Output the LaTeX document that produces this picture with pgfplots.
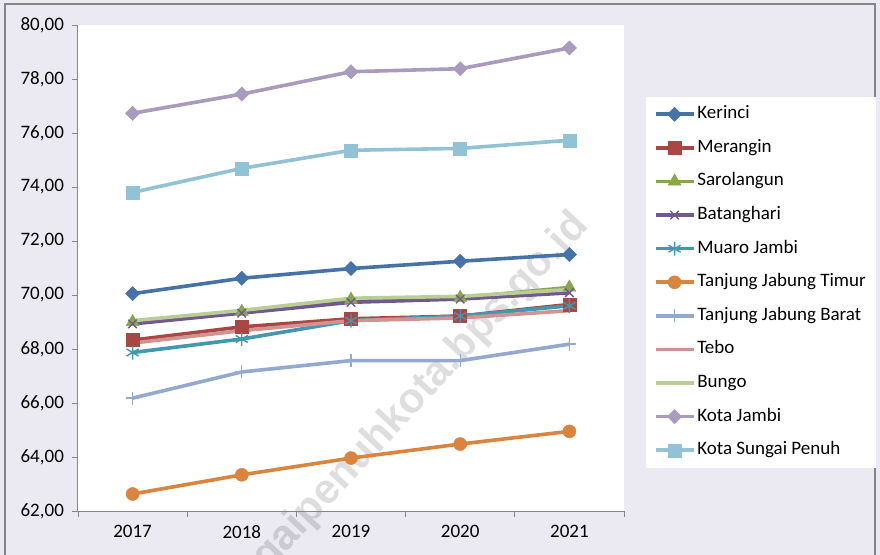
\documentclass[border=0pt]{standalone}
\usepackage{fontspec}
\setmainfont{Carlito}
\newfontfamily\wmfont{Liberation Sans}
\usepackage{pgfplots}
\pgfplotsset{compat=1.18}
\usetikzlibrary{backgrounds,calc}
\definecolor{bgc}{RGB}{235,233,241}
\definecolor{cA}{HTML}{4572A7}
\definecolor{cB}{HTML}{AA4643}
\definecolor{cC}{HTML}{89A54E}
\definecolor{cD}{HTML}{71588F}
\definecolor{cE}{HTML}{4198AF}
\definecolor{cF}{HTML}{DB843D}
\definecolor{cG}{HTML}{93A9CF}
\definecolor{cH}{HTML}{D19392}
\definecolor{cI}{HTML}{B9CD96}
\definecolor{cJ}{HTML}{A99BBD}
\definecolor{cK}{HTML}{91C3D5}
\definecolor{axc}{RGB}{134,134,134}
\newcommand{\fs}{\fontsize{19bp}{23bp}\selectfont}
\begin{document}
\begin{tikzpicture}
\begin{axis}[
  scale only axis, width=546bp, height=486bp,
  xmin=-0.5, xmax=4.5, ymin=62, ymax=80,
  xtick={0,1,2,3,4}, xticklabels={2017,2018,2019,2020,2021},
  minor xtick={-0.5,0.5,1.5,2.5,3.5,4.5},
  major x tick style={draw=none},
  ytick={62,64,...,80},
  tick align=outside,
  major tick length=6bp, minor tick length=6bp,
  tick style={axc, line width=0.8bp},
  axis x line*=bottom, axis y line*=left,
  axis line style={-, axc, line width=1bp},
  /pgf/number format/assume math mode=true,
  y tick label style={/pgf/number format/fixed, /pgf/number format/fixed zerofill, /pgf/number format/precision=2, /pgf/number format/use comma},
  tick label style={font=\fs},
  yticklabel style={xshift=-3bp},
  xticklabel style={yshift=-3bp},
  line width=3.6bp,
  legend style={at={(1.0366,0.856)}, anchor=north west, draw=none, fill=white,
    font=\fs, row sep=14.6bp, inner xsep=8bp, inner ysep=8bp,
    nodes={inner xsep=2bp, inner ysep=1bp, text height=13bp, text depth=4bp},
    cells={anchor=west}},
  legend image code/.code={\draw[mark repeat=2,mark phase=2,#1] plot coordinates {(0bp,0bp) (19bp,0bp) (38bp,0bp)};},
]
\coordinate (O) at (rel axis cs:0,0);
\addplot[cA, mark=square*, mark size=5bp, mark options={rotate=45, line width=0.5bp}] coordinates {(0,70.05) (1,70.62) (2,70.98) (3,71.25) (4,71.50)};
\addlegendentry{Kerinci}
\addplot[cB, mark=square*, mark size=6.5bp, mark options={line width=0.5bp}] coordinates {(0,68.33) (1,68.82) (2,69.12) (3,69.22) (4,69.65)};
\addlegendentry{Merangin}
\addplot[cC, mark=triangle*, mark size=7.5bp, mark options={line width=0.5bp}] coordinates {(0,69.00) (1,69.38) (2,69.83) (3,69.90) (4,70.28)};
\addlegendentry{Sarolangun}
\addplot[cD, mark=x, mark size=6bp, mark options={line width=1.4bp}] coordinates {(0,68.93) (1,69.33) (2,69.73) (3,69.85) (4,70.08)};
\addlegendentry{Batanghari}
\addplot[cE, mark=asterisk, mark size=7bp, mark options={line width=1.4bp}] coordinates {(0,67.87) (1,68.37) (2,69.05) (3,69.22) (4,69.60)};
\addlegendentry{Muaro Jambi}
\addplot[cF, mark=*, mark size=6.5bp, mark options={line width=0.5bp}] coordinates {(0,62.63) (1,63.34) (2,63.96) (3,64.48) (4,64.95)};
\addlegendentry{Tanjung Jabung Timur}
\addplot[cG, mark=+, mark size=6.5bp, mark options={line width=1.4bp}] coordinates {(0,66.18) (1,67.15) (2,67.57) (3,67.57) (4,68.18)};
\addlegendentry{Tanjung Jabung Barat}
\addplot[cH] coordinates {(0,68.22) (1,68.68) (2,69.05) (3,69.15) (4,69.42)};
\addlegendentry{Tebo}
\addplot[cI] coordinates {(0,69.05) (1,69.43) (2,69.88) (3,69.95) (4,70.20)};
\addlegendentry{Bungo}
\addplot[cJ, mark=square*, mark size=5bp, mark options={rotate=45, line width=0.5bp}] coordinates {(0,76.73) (1,77.44) (2,78.27) (3,78.38) (4,79.15)};
\addlegendentry{Kota Jambi}
\addplot[cK, mark=square*, mark size=6.5bp, mark options={line width=0.5bp}] coordinates {(0,73.80) (1,74.69) (2,75.36) (3,75.43) (4,75.73)};
\addlegendentry{Kota Sungai Penuh}
\end{axis}
\begin{scope}[on background layer, shift={($(O)+(-78bp,-44bp)$)}, x=1bp, y=1bp]
\fill[bgc] (0,0) rectangle (880,555);
\draw[axc,line width=1.2bp] (5,-5) -- (5,551) -- (875,551) -- (875,-5);
\fill[white] (78,44) rectangle (624,530);
\node[overlay,rotate=47,anchor=base east,inner sep=0pt,text=black,text opacity=0.13,font=\wmfont\fontsize{42bp}{48bp}\selectfont\bfseries] at (590,328) {sungaipenuhkota.bps.go.id};
\end{scope}
\pgfresetboundingbox
\useasboundingbox ($(O)+(-78bp,-44bp)$) rectangle ++(880bp,555bp);
\end{tikzpicture}
\end{document}
